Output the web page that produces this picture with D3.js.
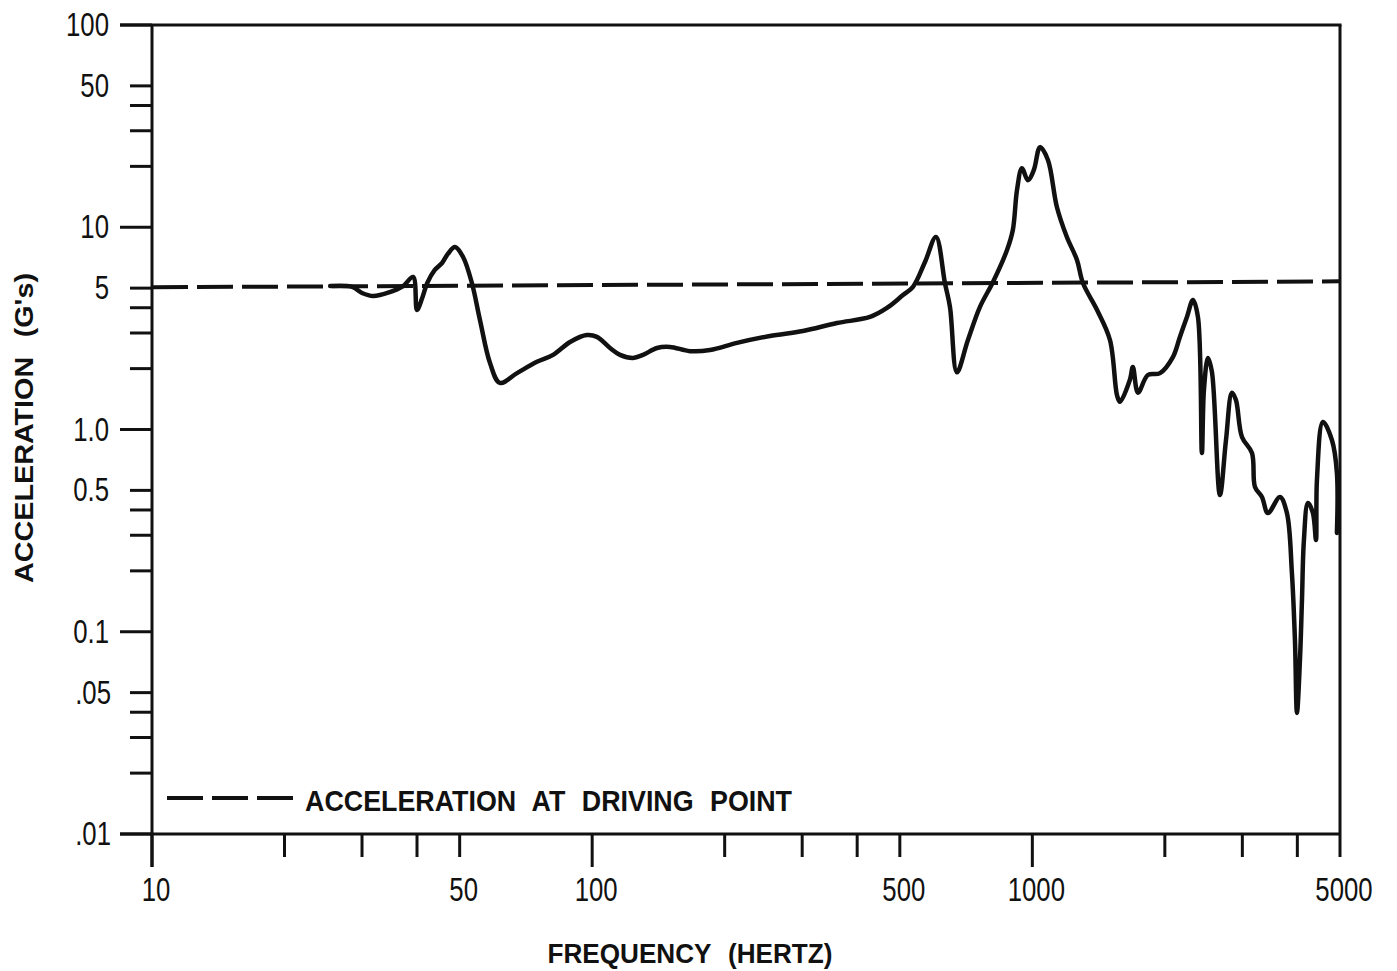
<!DOCTYPE html>
<html lang="en">
<head>
    <meta charset="UTF-8">
    <title>Acceleration vs Frequency</title>
    <script src="https://cdn.jsdelivr.net/npm/d3@7/dist/d3.min.js"></script>
    <style>
        body { margin: 0; background: #fff; }
        text { fill: #111; }
        .num { font-family: "Liberation Sans", Arial, sans-serif; font-size: 33px; }
        .title { font-family: "Liberation Sans", Arial, sans-serif; font-weight: bold; word-spacing: 10px; }
    </style>
</head>
<body>
    <script>
        // response curve (Hz, G's)
        const freqHz = [25.4, 28.5, 30.0, 31.8, 34.7, 37.2, 39.2, 40.0, 41.1, 42.2, 43.9, 45.6, 47.0, 48.8,
            50.9, 53.3, 55.6, 58.6, 61.7, 67.5, 74.9, 81.5, 89.1, 97.3, 102.5, 109.8, 115.7, 123.8, 130.5,
            140.4, 150.2, 166.8, 185.2, 213.3, 253.4, 301.2, 359.8, 427.7, 467.5, 508.3, 535.6, 570.3, 604,
            633, 650, 674, 714, 760, 814, 876, 903, 923, 947, 977, 1008, 1041, 1085, 1137, 1198, 1263, 1303,
            1403, 1501, 1557, 1581, 1666, 1692, 1738, 1830, 1950, 2086, 2164, 2245, 2317, 2378, 2428, 2454,
            2506, 2559, 2668, 2754, 2841, 2901, 2994, 3155, 3205, 3324, 3430, 3652, 3788, 3888, 3950, 3992,
            4055, 4098, 4140, 4228, 4340, 4409, 4432, 4573, 4793, 4920, 4920];
        const accelG = [5.12, 5.07, 4.73, 4.57, 4.78, 5.12, 5.68, 3.90, 4.47, 5.30, 6.15, 6.66, 7.38, 7.99,
            7.13, 5.30, 3.48, 2.13, 1.70, 1.90, 2.16, 2.34, 2.71, 2.93, 2.87, 2.53, 2.34, 2.26, 2.34,
            2.53, 2.56, 2.44, 2.47, 2.68, 2.90, 3.07, 3.36, 3.60, 3.99, 4.62, 5.07, 6.73, 8.95,
            5.30, 4.03, 1.92, 2.77, 4.03, 5.36, 7.72, 9.69, 15.3, 19.6, 17.1, 19.2, 24.9, 21.5, 12.6, 8.95, 6.89, 5.30,
            3.90, 2.77, 1.48, 1.37, 1.76, 2.04, 1.52, 1.86, 1.90, 2.28, 2.87, 3.60, 4.37, 3.60, 0.765, 1.57,
            2.26, 1.92, 0.474, 0.887, 1.52, 1.40, 0.918, 0.765, 0.520, 0.464, 0.386, 0.464, 0.386, 0.195, 0.091, 0.0397,
            0.0725, 0.1436, 0.284, 0.433, 0.386, 0.284, 0.563, 1.09, 0.887, 0.609, 0.308];

        // dashed reference: acceleration at driving point
        const refFreq = [10, 5000];
        const refAccel = [5.05, 5.4];

        const xMajor = [10, 100, 1000];
        const xMinor = [20, 30, 40, 50, 200, 300, 400, 500, 2000, 3000, 4000, 5000];
        const xLabelValues = [10, 50, 100, 500, 1000, 5000];
        const xLabels = ["10", "50", "100", "500", "1000", "5000"];

        const yMajor = [100, 10, 1, 0.1, 0.01];
        const yMinor = [50, 40, 30, 20, 5, 4, 3, 2, 0.5, 0.4, 0.3, 0.2, 0.05, 0.04, 0.03, 0.02];
        const yLabelValues = [100, 50, 10, 5, 1, 0.5, 0.1, 0.05, 0.01];
        const yLabels = ["100", "50", "10", "5", "1.0", "0.5", "0.1", ".05", ".01"];

        const W = 1397, H = 971;
        const mLeft = 152, mTop = 25, mRight = 1340, mBottom = 834;

        const x = d3.scaleLog().domain([10, 5000]).range([mLeft, mRight]);
        const y = d3.scaleLog().domain([0.01, 100]).range([mBottom, mTop]);

        const svg = d3.select("body").append("svg").attr("width", W).attr("height", H);

        function squeeze(sel, k) {
            sel.each(function () {
                const w = this.getComputedTextLength();
                d3.select(this).attr("textLength", w * k).attr("lengthAdjust", "spacingAndGlyphs");
            });
        }
        function fitTo(sel, w) {
            sel.attr("textLength", w).attr("lengthAdjust", "spacingAndGlyphs");
        }

        const axisStyle = s => s.attr("stroke", "#111").attr("stroke-width", 3).attr("fill", "none");

        // frame
        svg.append("line").attr("x1", 120).attr("x2", mRight + 1.5).attr("y1", mTop).attr("y2", mTop).call(axisStyle);
        svg.append("line").attr("x1", mRight).attr("x2", mRight).attr("y1", mTop).attr("y2", mBottom).call(axisStyle);
        svg.append("line").attr("x1", mLeft).attr("x2", mLeft).attr("y1", mTop).attr("y2", mBottom + 33).call(axisStyle);
        svg.append("line").attr("x1", 120).attr("x2", mRight).attr("y1", mBottom).attr("y2", mBottom).call(axisStyle);

        // y ticks
        svg.append("g").selectAll("line").data(yMajor).join("line")
            .attr("x1", 120).attr("x2", mLeft).attr("y1", d => y(d)).attr("y2", d => y(d)).call(axisStyle);
        svg.append("g").selectAll("line").data(yMinor).join("line")
            .attr("x1", 130).attr("x2", mLeft).attr("y1", d => y(d)).attr("y2", d => y(d)).call(axisStyle);

        // x ticks
        svg.append("g").selectAll("line").data(xMajor).join("line")
            .attr("x1", d => x(d)).attr("x2", d => x(d)).attr("y1", mBottom).attr("y2", mBottom + 33).call(axisStyle);
        svg.append("g").selectAll("line").data(xMinor).join("line")
            .attr("x1", d => x(d)).attr("x2", d => x(d)).attr("y1", mBottom).attr("y2", mBottom + 23).call(axisStyle);

        // tick labels
        const yl = svg.append("g").selectAll("text").data(yLabelValues).join("text")
            .attr("class", "num").attr("text-anchor", "end")
            .attr("x", (d, i) => yLabels[i].startsWith(".") ? 111 : 109)
            .attr("y", d => y(d) + 11)
            .text((d, i) => yLabels[i]);
        squeeze(yl, 0.78);

        const xl = svg.append("g").selectAll("text").data(xLabelValues).join("text")
            .attr("class", "num").attr("text-anchor", "middle")
            .attr("x", d => x(d) + 4).attr("y", 901)
            .text((d, i) => xLabels[i]);
        squeeze(xl, 0.78);

        // axis titles
        svg.append("text").attr("class", "title").attr("font-size", 27)
            .attr("text-anchor", "middle").attr("x", 690).attr("y", 963)
            .text("FREQUENCY (HERTZ)").call(fitTo, 285);

        svg.append("text").attr("class", "title").attr("font-size", 25)
            .attr("text-anchor", "middle")
            .attr("transform", "translate(33,428) rotate(-90)")
            .text("ACCELERATION (G's)").call(fitTo, 310);

        // reference dashed line
        const line = d3.line().x(d => x(d[0])).y(d => y(d[1]));
        svg.append("path")
            .datum(refFreq.map((f, i) => [f, refAccel[i]]))
            .attr("d", line)
            .attr("fill", "none").attr("stroke", "#111").attr("stroke-width", 4)
            .attr("stroke-dasharray", "36 9");

        // response curve
        const smooth = d3.line().x(d => x(d[0])).y(d => y(d[1])).curve(d3.curveCatmullRom.alpha(0.5));
        svg.append("path")
            .datum(freqHz.map((f, i) => [f, accelG[i]]))
            .attr("d", smooth)
            .attr("fill", "none").attr("stroke", "#111").attr("stroke-width", 4.5)
            .attr("stroke-linejoin", "round").attr("stroke-linecap", "round");

        // legend
        svg.append("line").attr("x1", 167).attr("x2", 296).attr("y1", 798).attr("y2", 798)
            .attr("stroke", "#111").attr("stroke-width", 4).attr("stroke-dasharray", "36 9");
        svg.append("text").attr("class", "title").attr("font-size", 30)
            .attr("x", 305).attr("y", 811)
            .text("ACCELERATION AT DRIVING POINT").call(fitTo, 487);
    </script>
</body>
</html>
